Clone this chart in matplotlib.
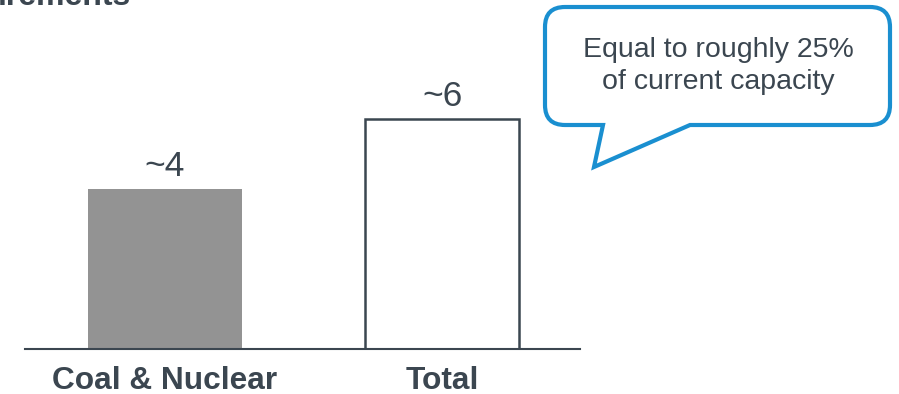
import matplotlib.pyplot as plt
from matplotlib.path import Path
from matplotlib.patches import PathPatch

plt.rcParams['font.family'] = ['Liberation Sans', 'DejaVu Sans']

categories = ['Coal & Nuclear', 'Total']
values = [4.0, 5.75]
value_labels = ['~4', '~6']
callout_text = 'Equal to roughly 25%\nof current capacity'
title = 'irements'

dark = '#3b4650'
blue = '#1a8fd0'
W, H = 899, 394

fig = plt.figure(figsize=(W / 100, H / 100), dpi=100)

# axes placed in pixel terms
ax = fig.add_axes([25 / W, (H - 349) / H, 555 / W, 349 / H])
x = [0, 1]
ax.bar(x[0], values[0], width=0.556, color='#939393')
ax.bar(x[1], values[1], width=0.556, facecolor='white', edgecolor=dark, linewidth=1.8)
for xi, v, lab in zip(x, values, value_labels):
    ax.text(xi, v + 0.15, lab, ha='center', va='bottom', fontsize=25.5, color=dark)
ax.set_xlim(-0.505, 1.498)
ax.set_ylim(0, 349 / 40)
for s in ['top', 'right', 'left']:
    ax.spines[s].set_visible(False)
ax.spines['bottom'].set_color(dark)
ax.spines['bottom'].set_linewidth(1.5)
ax.set_yticks([])
ax.set_xticks(x)
ax.set_xticklabels(categories, fontsize=22.8, fontweight='bold', color=dark)
ax.tick_params(axis='x', length=0, pad=12)

fig.text(-2 / W, 1 - 5 / H, title, ha='left', va='baseline', fontsize=23,
         fontweight='bold', color=dark)

# speech bubble in pixel coords (y from top)
def px(p):
    return (p[0] / W, 1 - p[1] / H)

pts = [(603, 125), (594, 167), (690, 125), (870, 125),
       (890, 125), (890, 105), (890, 27), (890, 7), (870, 7),
       (565, 7), (545, 7), (545, 27), (545, 105), (545, 125), (565, 125),
       (603, 125)]
codes = [Path.MOVETO, Path.LINETO, Path.LINETO, Path.LINETO,
         Path.CURVE3, Path.CURVE3, Path.LINETO, Path.CURVE3, Path.CURVE3,
         Path.LINETO, Path.CURVE3, Path.CURVE3, Path.LINETO, Path.CURVE3, Path.CURVE3,
         Path.CLOSEPOLY]
bubble = PathPatch(Path([px(p) for p in pts], codes), transform=fig.transFigure,
                   facecolor='white', edgecolor=blue, linewidth=3, joinstyle='miter')
fig.patches.append(bubble)
fig.text(718 / W, 1 - 66 / H, callout_text, ha='center', va='center', fontsize=20.5,
         color=dark, linespacing=1.3)

fig.savefig('out.png', dpi=100)
